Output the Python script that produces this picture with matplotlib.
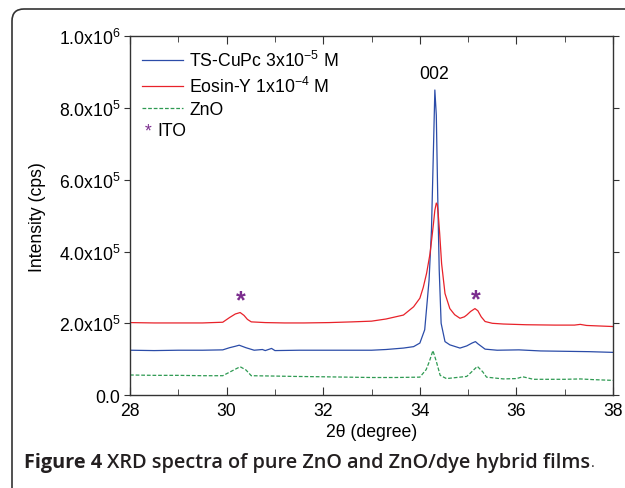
import numpy as np
import matplotlib
matplotlib.use("Agg")
import matplotlib.pyplot as plt
from matplotlib.patches import FancyBboxPatch
from matplotlib.ticker import MultipleLocator, FixedLocator

plt.rcParams["font.family"] = ["Liberation Sans", "DejaVu Sans"]
plt.rcParams["mathtext.fontset"] = "custom"
plt.rcParams["mathtext.rm"] = "Liberation Sans"
plt.rcParams["mathtext.it"] = "Liberation Sans:italic"
plt.rcParams["mathtext.bf"] = "Liberation Sans:bold"

# values, intensity in units of 1e5 cps
cupc_2theta = [28.0, 28.5, 29.0, 29.5, 29.92, 30.06, 30.18, 30.26, 30.4, 30.57,
               30.74, 30.8, 30.93, 31.0, 31.5, 32.0, 32.5, 33.0, 33.3, 33.66,
               33.87, 34.0, 34.1, 34.19, 34.24, 34.28, 34.31, 34.34, 34.37, 34.40,
               34.44, 34.52, 34.62, 34.83, 34.97, 35.08, 35.15, 35.2, 35.35, 35.6,
               36.05, 36.5, 37.0, 37.5, 38.0]
cupc_int = [1.25, 1.24, 1.25, 1.25, 1.26, 1.32, 1.36, 1.39, 1.32, 1.25,
            1.27, 1.24, 1.30, 1.24, 1.25, 1.25, 1.25, 1.25, 1.27, 1.31,
            1.35, 1.45, 1.82, 3.2, 4.6, 6.8, 8.5, 7.8, 5.5, 3.5,
            2.0, 1.49, 1.40, 1.31, 1.37, 1.45, 1.49, 1.43, 1.28, 1.25,
            1.26, 1.23, 1.22, 1.21, 1.19]

eosin_2theta = [28.0, 28.5, 29.0, 29.5, 29.92, 30.06, 30.18, 30.28, 30.36, 30.43,
                30.51, 30.8, 31.2, 31.6, 32.12, 32.6, 33.0, 33.3, 33.66, 33.87,
                34.0, 34.07, 34.14, 34.21, 34.25, 34.28, 34.31, 34.34, 34.36, 34.38,
                34.41, 34.45, 34.52, 34.62, 34.72, 34.83, 34.92, 34.97, 35.05, 35.14,
                35.2, 35.27, 35.35, 35.5, 35.73, 36.2, 36.8, 37.2, 37.32, 37.45, 38.0]
eosin_int = [2.02, 2.01, 2.01, 2.01, 2.03, 2.16, 2.26, 2.30, 2.22, 2.11,
             2.04, 2.02, 2.01, 2.01, 2.02, 2.04, 2.06, 2.12, 2.23, 2.46,
             2.7, 3.0, 3.4, 3.94, 4.4, 4.76, 5.15, 5.35, 5.3, 5.04,
             4.5, 3.66, 2.83, 2.41, 2.24, 2.14, 2.18, 2.23, 2.33, 2.41,
             2.35, 2.18, 2.05, 2.0, 1.98, 1.96, 1.95, 1.95, 1.97, 1.94, 1.91]

zno_2theta = [28.0, 28.5, 29.0, 29.5, 29.92, 30.12, 30.28, 30.4, 30.51, 31.0,
              31.4, 32.0, 32.5, 33.0, 33.5, 34.0, 34.13, 34.2, 34.27, 34.34,
              34.42, 34.55, 34.97, 35.05, 35.19, 35.3, 35.38, 35.73, 36.0, 36.13,
              36.35, 37.0, 37.32, 37.6, 38.0]
zno_int = [0.56, 0.55, 0.55, 0.54, 0.54, 0.68, 0.79, 0.70, 0.54, 0.53,
           0.52, 0.51, 0.50, 0.49, 0.49, 0.50, 0.71, 0.95, 1.24, 0.94,
           0.55, 0.46, 0.52, 0.62, 0.80, 0.65, 0.50, 0.45, 0.46, 0.51,
           0.44, 0.44, 0.45, 0.43, 0.41]

ito_2theta = [30.3, 35.15]
ito_int = [2.64, 2.68]

ytick_vals = [0.0, 2.0, 4.0, 6.0, 8.0, 10.0]
ytick_labels = ["0.0", r"$\mathregular{2.0x10^5}$", r"$\mathregular{4.0x10^5}$",
                r"$\mathregular{6.0x10^5}$", r"$\mathregular{8.0x10^5}$",
                r"$\mathregular{1.0x10^6}$"]

FS = 12.7

fig = plt.figure(figsize=(6.25, 4.89), dpi=100)
ax = fig.add_axes([0.208, 0.190, 0.773, 0.734])

ax.plot(cupc_2theta, cupc_int, color="#2b4ca8", lw=0.9,
        label=r"TS-CuPc 3x10$^{-5}$ M")
ax.plot(eosin_2theta, eosin_int, color="#e8222a", lw=0.9,
        label=r"Eosin-Y 1x10$^{-4}$ M")
ax.plot(zno_2theta, zno_int, color="#2e9a52", lw=0.9, ls=(0, (3, 1.5)),
        label="ZnO")

for x, y in zip(ito_2theta, ito_int):
    ax.text(x, y, "*", color="#7b2d8e", fontsize=18, fontweight="bold",
            ha="center", va="center")
ax.text(34.3, 8.72, "002", fontsize=FS, ha="center", va="bottom")

ax.set_xlim(28, 38)
ax.set_ylim(0, 10)
ax.xaxis.set_major_locator(MultipleLocator(2))
ax.xaxis.set_minor_locator(MultipleLocator(1))
ax.yaxis.set_major_locator(FixedLocator(ytick_vals))
ax.set_yticklabels(ytick_labels)

ax.tick_params(axis="x", which="both", direction="in", top=True, labelsize=FS,
               pad=5, color="#333333")
ax.tick_params(axis="x", which="major", length=6)
ax.tick_params(axis="x", which="minor", length=4)
ax.tick_params(axis="y", direction="out", length=4, labelsize=FS, pad=3,
               color="#333333")
ax.tick_params(axis="y", which="major", right=True)
for sp in ax.spines.values():
    sp.set_linewidth(1.0)
    sp.set_color("#333333")

ax.set_xlabel("2θ (degree)", fontsize=FS, labelpad=3)
ax.set_ylabel("Intensity (cps)", fontsize=FS, labelpad=9)

leg = ax.legend(loc="upper left", bbox_to_anchor=(0.0, 0.995), frameon=False,
                fontsize=FS, handlelength=2.3, handletextpad=0.35,
                labelspacing=0.3, borderaxespad=0.3)

# ITO note below the legend
ax.text(0.038, 0.737, "*", transform=ax.transAxes, color="#7b2d8e",
        fontsize=FS, ha="center", va="center")
ax.text(0.057, 0.737, "ITO", transform=ax.transAxes, fontsize=FS,
        ha="left", va="center")

# rounded frame around the figure and caption
frame = FancyBboxPatch((12, -30), 660, 479 + 30, transform=None,
                       boxstyle="round,pad=0,rounding_size=12",
                       fill=False, ec="#333333", lw=1.2)
fig.add_artist(frame)

cap1 = fig.text(0.038, 0.054, "Figure 4", fontsize=14.3, fontweight="bold",
                family="Open Sans", color="#231f20", va="center")
cap2 = fig.text(0.0, 0.054, "XRD spectra of pure ZnO and ZnO/dye hybrid films",
                fontsize=14.3, fontweight="semibold", family="Open Sans",
                color="#231f20", va="center")
fig.canvas.draw()
r = fig.canvas.get_renderer()
bb1 = cap1.get_window_extent(r)
cap2.set_x((bb1.x1 + 5) / fig.bbox.width)
fig.canvas.draw()
bb2 = cap2.get_window_extent(r)
fig.text((bb2.x1 + 1) / fig.bbox.width, 0.054, ".", fontsize=10,
         family="Liberation Sans", color="#231f20", va="center")

fig.savefig("out.png", dpi=100)
